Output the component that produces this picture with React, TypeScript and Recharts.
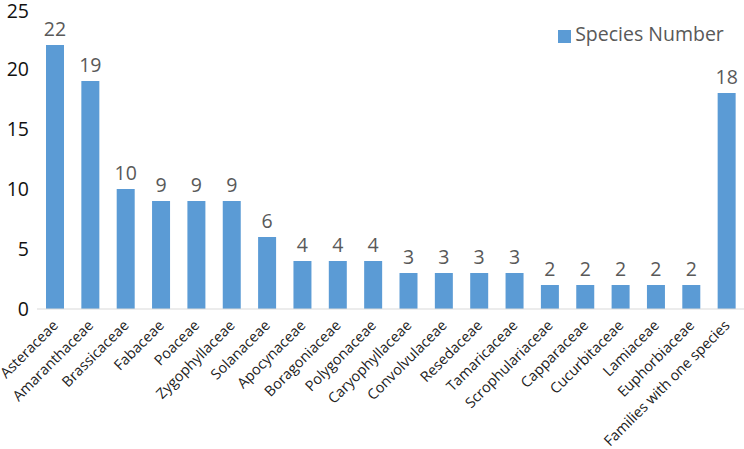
import React from 'react';
import { BarChart, Bar, XAxis, YAxis, Legend, LabelList } from 'recharts';

const families = [
  'Asteraceae', 'Amaranthaceae', 'Brassicaceae', 'Fabaceae', 'Poaceae', 'Zygophyllaceae',
  'Solanaceae', 'Apocynaceae', 'Boragoniaceae', 'Polygonaceae', 'Caryophyllaceae',
  'Convolvulaceae', 'Resedaceae', 'Tamaricaceae', 'Scrophulariaceae', 'Capparaceae',
  'Cucurbitaceae', 'Lamiaceae', 'Euphorbiaceae', 'Families with one species',
];
const speciesNumber = [22, 19, 10, 9, 9, 9, 6, 4, 4, 4, 3, 3, 3, 3, 2, 2, 2, 2, 2, 18];
const yTicks = [0, 5, 10, 15, 20, 25];

const data = families.map((f, i) => ({ family: f, value: speciesNumber[i] }));

const FONT = '"Open Sans", "Noto Sans", sans-serif';

const XTick = (props: any) => {
  const { x, y, payload } = props;
  const ax = x - 3;
  const ay = y + 2;
  return (
    <text
      x={ax}
      y={ay}
      transform={`rotate(-45, ${ax}, ${ay})`}
      textAnchor="end"
      dy="0.71em"
      fontSize={14.5}
      fontFamily={FONT}
      fill="#222"
    >
      {payload.value}
    </text>
  );
};

export default function App() {
  return (
    <div style={{ position: 'absolute', left: 0, top: 0, width: 744, height: 449, background: '#fff' }}>
      <BarChart
        width={744}
        height={449}
        data={data}
        margin={{ top: 9, right: 0, bottom: 0, left: 0 }}
      >
        <XAxis
          dataKey="family"
          interval={0}
          height={140}
          tickLine={false}
          axisLine={{ stroke: '#d9d9d9' }}
          tick={<XTick />}
        />
        <YAxis
          width={37}
          domain={[0, 25]}
          ticks={yTicks}
          axisLine={false}
          tickLine={false}
          tick={{ fontSize: 19.5, fill: '#111', fontFamily: FONT }}
        />
        <Legend
          layout="horizontal"
          verticalAlign="middle"
          align="center"
          iconType="square"
          iconSize={13}
          wrapperStyle={{ top: 20, left: 548, right: 'auto', width: 196, height: 30, textAlign: 'left', fontFamily: FONT }}
          formatter={(v: any) => (
            <span style={{ color: '#595959', fontSize: 19.5 }}>{v}</span>
          )}
        />
        <Bar dataKey="value" name="Species Number" fill="#5b9bd5" barSize={18} isAnimationActive={false}>
          <LabelList
            dataKey="value"
            position="top"
            offset={9}
            fill="#595959"
            fontSize={19.5}
            fontFamily={FONT}
          />
        </Bar>
      </BarChart>
    </div>
  );
}
